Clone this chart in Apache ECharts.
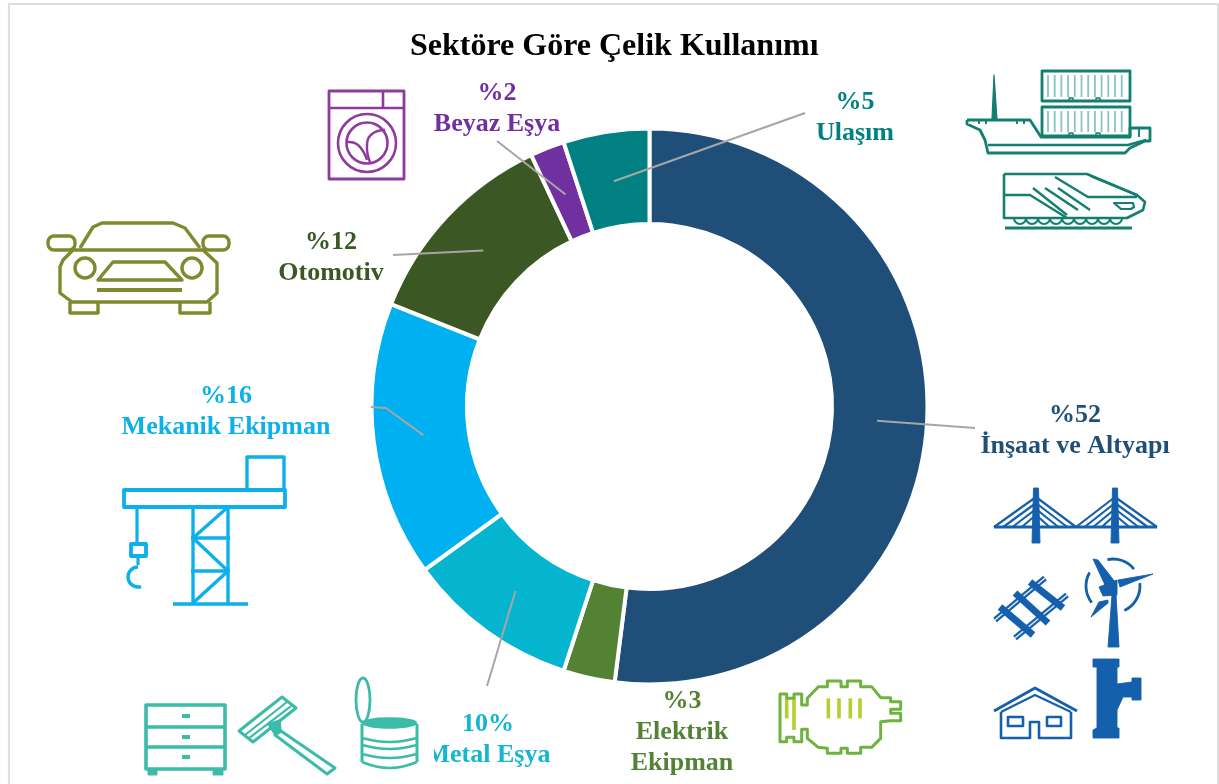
<!DOCTYPE html>
<html><head><meta charset="utf-8">
<style>html,body{margin:0;padding:0;background:#fff}#c{width:1219px;height:784px}</style>
<script src="https://cdn.jsdelivr.net/npm/echarts@6/dist/echarts.min.js"></script>
</head><body><div id="c"></div>
<script>
const chartTitle = 'Sektöre Göre Çelik Kullanımı';
const sectors = ['İnşaat ve Altyapı','Elektrik\nEkipman','Metal Eşya','Mekanik Ekipman','Otomotiv','Beyaz Eşya','Ulaşım'];
const shareLabels = ['%52','%3','10%','%16','%12','%2','%5'];
const shares = [52,3,10,16,12,2,5];
const sliceColors = ['#1F4E79','#548235','#05B5CF','#00B0F0','#3B5723','#7030A0','#008080'];
const labelColors = ['#1F4E79','#548235','#14B6D2','#0CB1E8','#3B5723','#7030A0','#008080'];

const CX = 649.5, CY = 406.5, R_OUT = 278, R_IN = 182.5, R_LEAD = 228;
const labelCenters = [[1075,431],[682,732],[488,740],[226,412],[331,258],[497,108.5],[855,118]];
const leaderEnds = [[[975,428]],null,[[487,686]],[[386,408],[371,407]],[[393,255]],[[497,141]],[[805,113]]];

const total = shares.reduce((a,b)=>a+b,0);
function leaderStart(i){
  const before = shares.slice(0,i).reduce((a,b)=>a+b,0);
  const a = (before + shares[i]/2)/total*2*Math.PI;
  return [CX + R_LEAD*Math.sin(a), CY - R_LEAD*Math.cos(a)];
}

const G = [];
const st = (c,w,fill)=>({stroke:c,lineWidth:w+0.4,fill:fill||'none',lineJoin:'round'});
const pl = (pts,c,w,opt)=>G.push({type:'polyline',z:20,silent:true,shape:Object.assign({points:pts},opt||{}),style:st(c,w)});
const pg = (pts,c,w,fill)=>G.push({type:'polygon',z:20,silent:true,shape:{points:pts},style:st(c,w,fill)});
const rc = (x1,y1,x2,y2,c,w,r,fill)=>G.push({type:'rect',z:20,silent:true,shape:{x:x1,y:y1,width:x2-x1,height:y2-y1,r:r||0},style:st(c,w,fill)});
const ci = (x,y,r,c,w)=>G.push({type:'circle',z:20,silent:true,shape:{cx:x,cy:y,r:r},style:st(c,w)});
const el = (x,y,a,b,c,w,fill)=>G.push({type:'ellipse',z:20,silent:true,shape:{cx:x,cy:y,rx:a,ry:b},style:st(c,w,fill)});
const ar = (x,y,r,a0,a1,c,w,cw)=>G.push({type:'arc',z:20,silent:true,shape:{cx:x,cy:y,r:r,startAngle:a0*Math.PI/180,endAngle:a1*Math.PI/180,clockwise:cw!==false},style:st(c,w)});

/* page frame */
const FR='#dfdfdf';
pl([[9,784],[9,4],[1218,4],[1218,784]],FR,1.8);

/* leader lines */
leaderEnds.forEach((e,i)=>{ if(e) pl([leaderStart(i)].concat(e),'#a6a6a6',1.6); });

/* white patch clipping the label, as in the original */
G.push({type:'rect',z:30,silent:true,shape:{x:419,y:738,width:15,height:36},style:{fill:'#fff'}});

/* ship & train */
const T='#127F70', TL='#8cc4bb';
[[1042,71,1130,101],[1042,107,1130,136]].forEach(b=>{
  for(let x=b[0]+6;x<b[2]-3;x+=6.7) pl([[x,b[1]+4],[x,b[3]-4]],TL,1.4);
  rc(b[0],b[1],b[2],b[3],T,2.4);
  rc(1069,b[3]-3,1073,b[3],T,1); rc(1096,b[3]-3,1100,b[3],T,1);
});
pg([[994,75],[992,119],[997,119]],T,0.8,T);
pl([[967,120],[1030,120],[1041,137],[1130,137],[1130,128],[1150,128],[1150,141],[1145,141],[1130,148],[1125,153],[988,153],[985,140],[980,130],[967,124],[967,120]],T,2.4);
pl([[988,145],[1128,145],[1146,140]],T,2);
pl([[1139,128],[1139,137]],T,1.5);
[[979,120],[986,120],[1017,120],[1024,120]].forEach(p=>pl([[p[0],p[1]],[p[0],p[1]+4]],T,1.5));
pl([[1004,174],[1087,174],[1137,195],[1145,202],[1143,210],[1127,218],[1004,218],[1004,174]],T,2.2);
pl([[1004,195],[1030,195],[1067,218]],T,2);
pl([[1055,177],[1088,197],[1137,197]],T,2);
pl([[1087,174],[1092,177],[1138,196]],T,1);
pl([[1033,188],[1067,215]],T,2); pl([[1045,188],[1078,210]],T,2); pl([[1058,188],[1090,210]],T,2);
pg([[1114,203],[1133,203],[1134,207],[1131,209],[1121,209]],T,1.8);
for(let x=1020;x<1125;x+=12) ar(x,218,6,0,180,T,1.6);
pl([[1005,228],[1132,228]],T,2.6);

/* infrastructure */
const B='#1560AC';
pl([[994,527],[1157,527]],B,2.6);
pg([[1033.5,488],[1038.5,488],[1040,543],[1032,543]],B,0.5,B);
pg([[1112.5,488],[1117.5,488],[1119,543],[1111,543]],B,0.5,B);
[[1036,994,1076],[1115,1076,1157]].forEach(t=>{
  [0,1,2,3].forEach(k=>{
    const y=497+k*6, f=k*0.22;
    pl([[t[0],y],[t[1]+(t[0]-t[1])*f,527]],B,1.8);
    pl([[t[0],y],[t[2]+(t[0]-t[2])*f,527]],B,1.8);
  });
});
pl([[995,620],[1045,578]],B,5.2); pl([[1015,638],[1067,595]],B,5.2);
pl([[995,620],[1045,578]],'#dce8f5',1.2); pl([[1015,638],[1067,595]],'#dce8f5',1.2);
pl([[1000,607],[1033,635]],B,6.5); pl([[1015,593],[1048,623]],B,6.5); pl([[1030,582],[1063,608]],B,6.5);
pg([[1112,595],[1108,647],[1119,647],[1116,595]],B,0.5,B);
pg([[1093,559],[1098,560],[1115,582],[1105,585]],B,0.5,B);
pg([[1118,580],[1153,574],[1130,583],[1120,587]],B,0.5,B);
pg([[1099,602],[1108,600],[1108,603],[1091,617]],B,0.5,B);
pg([[1099,587],[1117,580],[1117,595],[1103,596]],B,0.5,B);
ar(1113,586,27,-102,-39,B,2.4); ar(1113,586,27,142,210,B,2.4); ar(1113,586,27,-6,65,B,2.4);
pl([[994,711],[1035,688],[1077,711]],B,2.4);
pl([[1001,712],[1035,695],[1071,712]],B,1.8);
pl([[1001,712],[1001,738],[1030,738],[1030,722],[1039,722],[1039,738],[1071,738],[1071,712]],B,2.2);
rc(1008,717,1023,726,B,2.2); rc(1047,717,1061,726,B,2.2);
pg([[1093,659],[1119,659],[1119,667],[1117,667],[1117,684],[1132,682],[1132,678],[1141,678],[1141,700],[1132,700],[1132,697],[1123,697],[1117,710],[1117,728],[1119,728],[1119,738],[1093,738],[1093,730],[1097,728],[1097,667],[1093,667]],B,0.5,B);

/* crane */
const C='#0CB1EA';
rc(124,490,285,507,C,3.4); rc(247,457,284,490,C,3);
pl([[193,507],[193,604]],C,3); pl([[228,507],[228,604]],C,3);
pl([[173,604],[248,604]],C,3.2);
pl([[191,538],[230,538]],C,3); pl([[191,571],[230,571]],C,3);
pl([[193,538],[228,507]],C,3); pl([[193,538],[228,571]],C,3); pl([[193,603],[228,571]],C,3);
pl([[137,507],[137,543]],C,2.8);
rc(131,544,146,556,C,3.4);
pl([[138,557],[138,565]],C,2.8);
ar(138,577,10,-90,72,C,3,false);

/* cabinet, razor, can */
const M='#3BBCA8';
rc(146,705,225,769,M,3.2);
pl([[146,727],[225,727]],M,3); pl([[146,747],[225,747]],M,3);
[716,737,757].forEach(y=>pl([[182,y],[190,y]],M,3.6));
rc(148,769,157,775,M,0.5,0,M); rc(213,769,223,775,M,0.5,0,M);
pg([[239,731],[282,697],[296,708],[253,742]],M,2.6);
pl([[245,735],[287,702]],M,1.8); pl([[249,738],[291,706]],M,1.8);
pg([[268,724],[280,720],[281,731],[275,735]],M,1,M);
pg([[281,731],[335,768],[327,774],[275,735]],M,2.6);
el(363,700,7,22,M,2.4);
el(389.5,723,27,5,M,1,M);
pl([[362,724],[362,762]],M,2.6); pl([[417,724],[417,762]],M,2.6);
[[738,4],[745,4],[754,4],[762,6]].forEach(b=>{const y=b[0],d=b[1];
  pl([[362,y],[376,y+d*0.75],[390,y+d],[403,y+d*0.75],[417,y]],M,2.2,{smooth:0.4});});

/* washing machine */
const W='#8E3A9E';
rc(329,91,404,179,W,2.4);
pl([[329,108],[404,108]],W,2.2); pl([[383,91],[383,108]],W,2.2);
ci(367,143,29,W,2.2); ci(367,143,20.5,W,2.2);
pl([[385,130],[372,134],[367,145],[370,162]],W,2,{smooth:0.5});
pl([[347,142],[358,145],[367,160]],W,2,{smooth:0.5});

/* car */
const K='#7F8A2E';
pl([[80,248],[93,227],[102,223],[173,223],[185,228],[200,248]],K,3);
pg([[63,260],[73,250],[203,250],[217,263],[217,293],[207,302],[72,302],[60,293],[60,267]],K,3);
rc(48,236,75,250,K,3,6,'#fff'); rc(203,236,229,250,K,3,6,'#fff');
ci(85,268,10,K,3); ci(192,268,10,K,3);
pg([[98,280],[113,262],[165,262],[182,280]],K,3);
pl([[97,290],[182,290]],K,3.6);
pl([[70,302],[70,313],[98,313],[98,302]],K,3);
pl([[180,302],[180,313],[210,313],[210,302]],K,3);

/* engine */
const eng=p=>p.map(q=>[770+q[0]/3,670+q[1]/3]);
const E='#6FB33F', EL='#B5CF2E';
[[50,85,145],[72,85,180],[175,85,145],[207,85,145],[241,85,145],[270,85,145]].forEach(s=>pl(eng([[s[0],s[1]],[s[0],s[2]]]),EL,3.2));
pg(eng([[30,72],[50,72],[50,85],[72,85],[72,72],[95,72],[95,105],[112,105],[112,85],[145,50],[172,50],[172,33],[213,33],[213,50],[232,50],[232,33],[272,33],[272,50],[305,50],[332,83],[362,83],[362,95],[392,95],[392,118],[362,118],[362,130],[392,130],[392,152],[362,152],[332,155],[332,205],[305,232],[272,232],[272,250],[232,250],[232,235],[213,235],[213,250],[172,250],[172,235],[145,232],[112,205],[112,178],[95,178],[95,215],[72,215],[72,202],[50,202],[50,215],[30,215]]),E,2.6);

const data = sectors.map((n,i)=>({
  name:n, value:shares[i],
  itemStyle:{color:sliceColors[i]},
  label:{color:labelColors[i]}
}));

const chart = echarts.init(document.getElementById('c'),null,{renderer:'canvas'});
chart.setOption({
  animation:false,
  backgroundColor:'#fff',
  title:{text:chartTitle,left:410,top:31,padding:0,textStyle:{fontFamily:'Liberation Serif',fontWeight:'bold',fontSize:32,color:'#000'}},
  series:[{
    type:'pie',
    z:2,
    center:[CX,CY],
    radius:[R_IN,R_OUT],
    startAngle:90,
    clockwise:true,
    avoidLabelOverlap:false,
    silent:true,
    data:data,
    itemStyle:{borderColor:'#fff',borderWidth:4},
    label:{
      show:true,
      position:'outside',
      formatter:p=>shareLabels[p.dataIndex]+'\n'+p.name,
      fontFamily:'Liberation Serif',fontWeight:'bold',fontSize:26,lineHeight:31,align:'center'
    },
    labelLine:{show:false},
    labelLayout:p=>({x:labelCenters[p.dataIndex][0],y:labelCenters[p.dataIndex][1],align:'center',verticalAlign:'middle'})
  }],
  graphic:{elements:G}
});
</script></body></html>
